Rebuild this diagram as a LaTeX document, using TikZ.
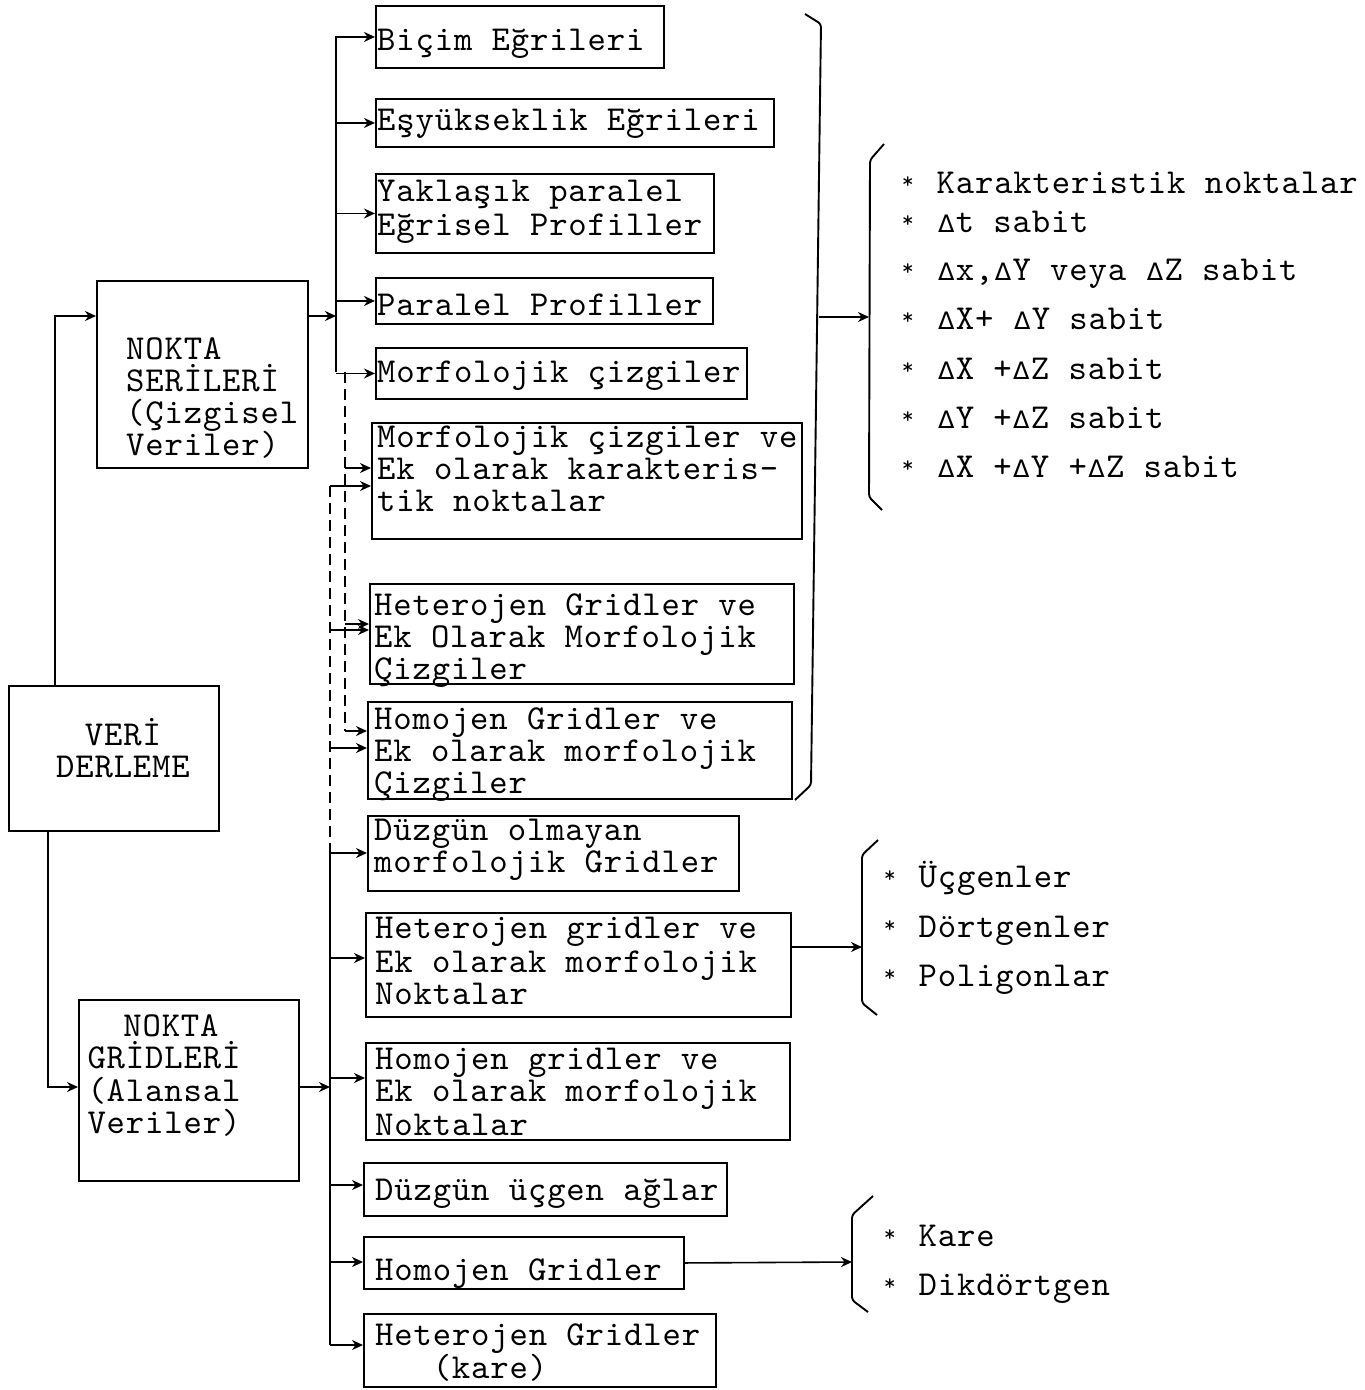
\documentclass[tikz,border=0pt]{standalone}
\usepackage{fontspec}
\usetikzlibrary{arrows.meta,calc}
\newfontfamily\twf{lmmono10-regular.otf}[LetterSpace=2.4]
\newfontfamily\djf{DejaVu Sans}
\newcommand\tw{\twf\fontsize{35}{32}\selectfont\lineskiplimit=-100pt\relax}
\newcommand\D{\makebox[19.2pt]{\djf\fontsize{24}{24}\selectfont Δ}}
\newcommand\st{\makebox[19.2pt]{\raisebox{5pt}{\scalebox{0.65}{*}}}}
\newcommand\bx[5]{\node[box, minimum width={#4-#2}, minimum height={#5-#3}] (#1) at (#2,#3) {};}
\newcommand\tx[4]{\node[txt] (#1) at (#2,{#3-30}) {\rule{0pt}{30pt}#4};}
\begin{document}
\begin{tikzpicture}[x=1pt,y=-1pt,
  box/.style={draw, line width=1.9pt, inner sep=0pt, anchor=north west},
  txt/.style={font=\tw, inner sep=0pt, anchor=north west, align=left},
  ctxt/.style={font=\tw, inner sep=0pt, anchor=north, align=center},
  ln/.style={line width=1.6pt},
  dsh/.style={line width=1.6pt, dash pattern=on 11pt off 6pt},
  arr/.style={line width=1.6pt, -{Stealth[length=11pt,width=10pt]}},
  brk/.style={line width=1.9pt, rounded corners=3pt}]
\fill[white] (0,0) rectangle (1365,1390);
\useasboundingbox (0,0) rectangle (1365,1390);

% ---------- boxes ----------
\bx{vd}{8}{685}{218}{830}
\bx{ns}{96}{280}{307}{467}
\bx{ng}{78}{999}{298}{1180}
\bx{b1}{375}{5}{663}{67}
\bx{b2}{375}{98}{773}{146}
\bx{b3}{375}{173}{713}{252}
\bx{b4}{375}{277}{712}{323}
\bx{b5}{375}{347}{746}{398}
\bx{b6}{371}{422}{801}{538}
\bx{b7}{369}{583}{793}{683}
\bx{b8}{367}{701}{791}{798}
\bx{c1}{367}{815}{738}{890}
\bx{c2}{365}{912}{790}{1016}
\bx{c3}{365}{1042}{789}{1139}
\bx{c4}{363}{1162}{726}{1215}
\bx{c5}{363}{1236}{683}{1288}
\bx{c6}{363}{1313}{715}{1386}

% ---------- texts ----------
\node[ctxt] (tvd) at (123,715) {\rule{0pt}{30pt}VERİ\\DERLEME};
\tx{tns}{126}{359}{NOKTA\\SERİLERİ\\(Çizgisel\\Veriler)}
\node[ctxt] (tng) at (164,1006) {\rule{0pt}{30pt}\hspace*{14pt}NOKTA\\GRİDLERİ\\[1pt](Alansal\\Veriler)};
\tx{t1}{377}{50}{Biçim Eğrileri}
\tx{t2}{377}{130}{Eşyükseklik Eğrileri}
\tx{t3}{377}{201}{Yaklaşık paralel\\[2pt]Eğrisel Profiller}
\tx{t4}{377}{315}{Paralel Profiller}
\tx{t5}{377}{382}{Morfolojik çizgiler}
\tx{t6}{377}{447}{Morfolojik çizgiler ve\\Ek olarak karakteris-\\tik noktalar}
\tx{t7}{374}{615}{Heterojen Gridler ve\\Ek Olarak Morfolojik\\Çizgiler}
\tx{t8}{374}{729}{Homojen Gridler ve\\Ek olarak morfolojik\\Çizgiler}
\tx{u1}{374}{840}{Düzgün olmayan\\morfolojik Gridler}
\tx{u2}{375}{938}{Heterojen gridler ve\\[2pt]Ek olarak morfolojik\\Noktalar}
\tx{u3}{375}{1069}{Homojen gridler ve\\Ek olarak morfolojik\\[2pt]Noktalar}
\tx{u4}{375}{1200}{Düzgün üçgen ağlar}
\tx{u5}{375}{1280}{Homojen Gridler}
\tx{u6}{375}{1345}{Heterojen Gridler\\[1pt]\hspace*{57.6pt}(kare)}

\tx{r1}{898}{193}{\st\ Karakteristik noktalar\\[7pt]%
\st\ \D t sabit\\[16pt]%
\st\ \D x,\D Y veya \D Z sabit\\[17pt]%
\st\ \D X+ \D Y sabit\\[18pt]%
\st\ \D X +\D Z sabit\\[17pt]%
\st\ \D Y +\D Z sabit\\[17pt]%
\st\ \D X +\D Y +\D Z sabit}
\tx{r2}{880}{887}{\st\ Üçgenler\\[18pt]\st\ Dörtgenler\\[17pt]\st\ Poligonlar}
\tx{r3}{880}{1246}{\st\ Kare\\[17pt]\st\ Dikdörtgen}

% ---------- connectors: left ----------
\draw[arr] ($(vd.north west)+(47,0)$) |- ($(ns.north west)+(0,36)$);
\draw[arr] ($(vd.south west)+(40,0)$) |- ($(ng.north west)+(0,88)$);

% upper bus
\coordinate (j1) at (336,316);
\coordinate (bus1t) at (336,36);
\coordinate (bus1b) at (336,372);
\draw[arr] ($(ns.north east)+(0,36)$) -- (j1);
\draw[ln] (bus1t) -- (bus1b);
\foreach \b in {b1,b2,b3,b4,b5}
  \draw[arr] (\b.west -| bus1t) -- (\b.west);

% dashed line A
\coordinate (dA) at (345,372);
\coordinate (a1) at (345,468);
\coordinate (a2) at (345,624);
\coordinate (a3) at (345,731);
\draw[dsh] (dA) -- (a3);
\draw[arr] (a1) -- (a1 -| b6.west);
\draw[arr] (a2) -- (a2 -| b7.west);
\draw[arr] (a3) -- (a3 -| b8.west);

% dashed line B and lower bus
\coordinate (e1) at (330,486);
\coordinate (e2) at (330,630);
\coordinate (e3) at (330,748);
\coordinate (k1) at (330,853);
\coordinate (k2) at (330,958);
\coordinate (k3) at (330,1078);
\coordinate (k4) at (330,1185);
\coordinate (k5) at (330,1262);
\coordinate (k6) at (330,1345);
\coordinate (jn) at (330,1087);
\draw[dsh] (e1) -- (k1);
\draw[ln] (k1) -- (k6);
\draw[arr] (e1) -- (e1 -| b6.west);
\draw[arr] (e2) -- (e2 -| b7.west);
\draw[arr] (e3) -- (e3 -| b8.west);
\draw[arr] (k1) -- (k1 -| c1.west);
\draw[arr] (k2) -- (k2 -| c2.west);
\draw[arr] (k3) -- (k3 -| c3.west);
\draw[arr] (k4) -- (k4 -| c4.west);
\draw[arr] (k5) -- (k5 -| c5.west);
\draw[arr] (k6) -- (k6 -| c6.west);
\draw[arr] ($(ng.north east)+(0,88)$) -- (jn);

% ---------- brackets ----------
\draw[brk] (805,14) -- (821,24) -- (811,785) -- (795,800);
\coordinate (brA) at (819,317);
\coordinate (brB) at (869,317);
\draw[arr] (brA) -- (brB);
\draw[brk] (884,144) -- (870,160) -- (869,497) -- (882,510);

\draw[brk] (878,840) -- (862,855) -- (862,1003) -- (877,1015);
\coordinate (brC) at (862,947);
\draw[arr] ($(c2.north east)+(0,35)$) -- (brC);

\draw[brk] (873,1196) -- (852,1215) -- (852,1300) -- (868,1312);
\coordinate (brD) at (852,1262);
\draw[arr] (c5.east) -- (brD);
\end{tikzpicture}
\end{document}
